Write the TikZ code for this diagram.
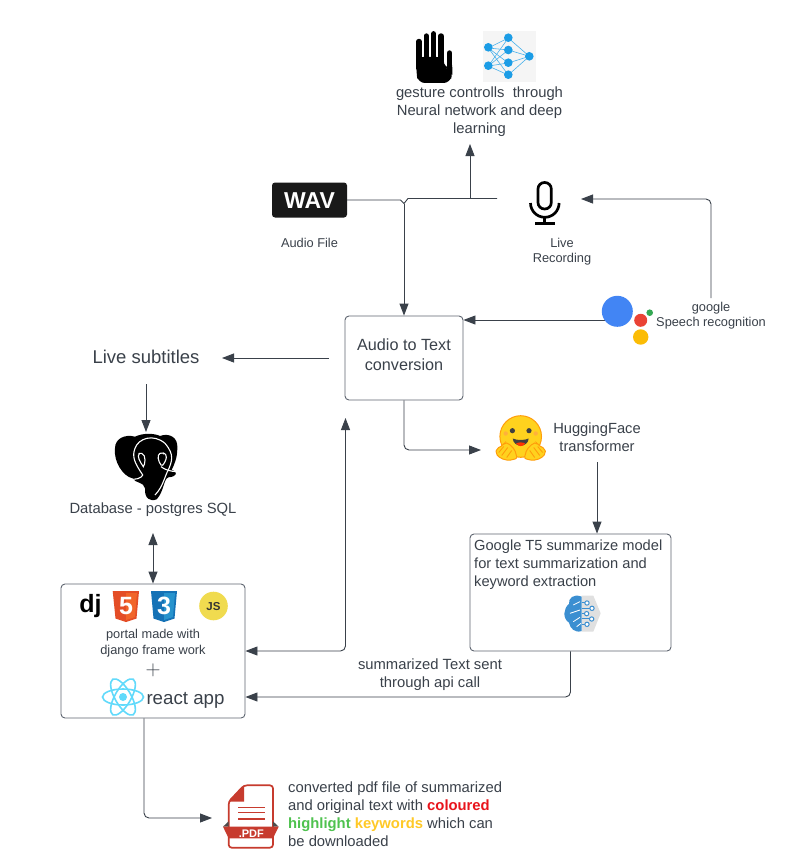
\documentclass[tikz,border=0pt]{standalone}
\usepackage{fontspec}
\setmainfont{Liberation Sans}
\usetikzlibrary{arrows.meta,calc}
\definecolor{ink}{HTML}{3A414A}
\definecolor{boxline}{HTML}{5E6570}
\definecolor{netblue}{HTML}{1C9DE6}
\definecolor{reactblue}{HTML}{61DAFB}
\definecolor{hfyellow}{HTML}{FFD21E}
\definecolor{hforange}{HTML}{FF9D0B}
\definecolor{pdfred}{HTML}{C73B2E}
\definecolor{brainblue}{HTML}{3B8FD1}
\definecolor{gblue}{HTML}{4285F4}
\definecolor{gred}{HTML}{EA4335}
\definecolor{ggreen}{HTML}{34A853}
\definecolor{gyellow}{HTML}{FBBC05}
\definecolor{htmla}{HTML}{E44D26}
\definecolor{htmlb}{HTML}{F16529}
\definecolor{cssa}{HTML}{1572B6}
\definecolor{cssb}{HTML}{33A9DC}
\definecolor{jsy}{HTML}{F0DB4F}
\tikzset{
  x=1pt,y=-1pt,
  lbl/.style 2 args={text=ink,inner sep=0pt,align=center,font=\fontsize{#1}{#2}\selectfont},
  card/.style={draw=boxline,line width=0.9pt,rounded corners=4pt,fill=white,inner sep=0pt},
  conn/.style={draw=ink,line width=0.9pt,rounded corners=5pt},
  tip/.style={-{Triangle[length=12pt,width=9pt]}},
  tips/.style={{Triangle[length=12pt,width=9pt]}-{Triangle[length=12pt,width=9pt]}},
  icon/.style={inner sep=0pt,minimum size=0pt},
}
\begin{document}
\begin{tikzpicture}
\useasboundingbox[fill=white] (0,0) rectangle (792,856);

% ---------- boxes
\node[card,minimum width=118pt,minimum height=84pt] (audio) at (404,358) {};
\node[lbl={16.2}{20.5}] (audiotext) at (404,354.5) {Audio to Text\\conversion};
\node[card,minimum width=201pt,minimum height=117pt] (t5) at (570.5,592.5) {};
\node[lbl={14.65}{18},align=left,anchor=north west] (t5text) at (474,540) {Google T5 summarize model\\for text summarization and\\keyword extraction};
\node[card,minimum width=184pt,minimum height=134pt] (portal) at (153,651) {};

% ---------- labels
\node[lbl={14.8}{18}] (gesture) at (479.5,111.5) {gesture controlls\ \ through\\Neural network and deep\\learning};
\node[lbl={12.8}{15}] (audiofile) at (309.5,243) {Audio File};
\node[lbl={12.8}{15.5}] (live) at (562,251.5) {Live\\Recording};
\node[lbl={12.8}{15}] (google) at (711,315.5) {google\\Speech recognition};
\node[lbl={18.5}{20}] (subtitles) at (146,356.5) {Live subtitles};
\node[lbl={14.7}{18}] (hf) at (597,437.7) {HuggingFace\\transformer};
\node[lbl={14.8}{18}] (db) at (153,510) {Database - postgres SQL};
\node[lbl={12.8}{16}] (portaltext) at (153,643) {portal made with\\django frame work};
\node[lbl={22}{22}] (plus) at (153,670) {$+$};
\node[lbl={18.7}{20}] (reactapp) at (185.5,700) {react app};
\node[lbl={14.8}{18}] (apitext) at (430,675) {summarized Text sent\\through api call};
\node[lbl={14.8}{18},align=left,anchor=north west] (pdftext) at (288,782) {converted pdf file of summarized\\and original text with {\bfseries\color[HTML]{E8141C}coloured}\\{\bfseries\color[HTML]{4FC24F}highlight} {\bfseries\color[HTML]{FFC926}keywords} which can\\be downloaded};

% ---------- icon anchors
\node[icon,minimum width=75pt,minimum height=35pt,fill=black!90,rounded corners=3pt] (wav) at (309.5,200) {};
\node[text=white,inner sep=0pt,font=\bfseries\fontsize{23}{23}\selectfont] (wavtext) at (309.5,200.5) {WAV};
\coordinate (micleft) at (497,198.5);
\coordinate (micright) at (581,199);
\coordinate (gup) at (470,144);
\coordinate (gstart) at (470,198.5);
\coordinate (googleleft) at (605,320);
\coordinate (googletop) at (711,298);
\coordinate (subl) at (222,358);
\coordinate (audl) at (329,358);
\coordinate (subb) at (146,384);
\coordinate (dbtop) at (146,432);
\coordinate (dbbot) at (153,533);
\coordinate (hfleft) at (481,450);
\coordinate (hfbot) at (597,462);
\coordinate (pdfleft) at (212,818);
\coordinate (merge) at (404,203.5);
\coordinate (portalup) at (345.5,418);

% ---------- connectors
\draw[conn,rounded corners=0pt] (wav.east) -- (400.5,200) -- (merge);
\draw[conn,rounded corners=0pt] (micleft) -- (408,198.5) -- (merge);
\draw[conn,tip] (merge) -- (audio.north -| merge);
\draw[conn,tip] (gstart) -- (gup);
\draw[conn,tip] (googletop) -- (711,199) -- (micright);
\draw[conn,tip] (googleleft) -- (audio.east |- googleleft);
\draw[conn,tip] (audl) -- (subl);
\draw[conn,tip] (subb) -- (dbtop);
\draw[conn,tips] (dbbot) -- (portal.north);
\draw[conn,tips] (portal.east |- 0,651) -- (345.5,651) -- (portalup);
\draw[conn,tip] (audio.south -| merge) -- (404,450) -- (hfleft);
\draw[conn,tip] (hfbot) -- (t5.north -| hfbot);
\draw[conn,tip] (t5.south -| 570.5,0) -- (570.5,697) -- (portal.east |- 0,697);
\draw[conn,tip] (portal.south -| 144,0) -- (144,818) -- (pdfleft);

% ---------- hand
\draw[black,line width=5.4pt,line cap=round] (419,41.5) -- (419,62) (426.3,36) -- (426.3,62) (433.7,33.8) -- (433.7,62) (441,36) -- (441,62) (449.6,53) -- (449.6,72);
\fill[black,rounded corners=7pt] (416.3,57) -- (443.7,57) -- (443.7,68) -- (452.3,68) -- (452.3,72) -- (450.5,83) -- (418,83) -- (416.3,72) -- cycle;
\fill[black] (416.3,57) rectangle (443.7,69);

% ---------- neural network
\fill[black!4] (483,31) rectangle (536,82);
\foreach \a in {48,66}{\foreach \b in {38,50,63,75}{\draw[netblue!80,line width=0.6pt] (488.3,\a) -- (508.3,\b);}}
\foreach \b in {38,50,63,75}{\draw[netblue!80,line width=0.6pt] (508.3,\b) -- (529.3,56.3);}
\foreach \p/\q in {488.3/47.3,488.3/65.7,508.3/37.7,508.3/50,508.3/62.7,508.3/74.7,529.3/56.3}{\fill[netblue] (\p,\q) circle[radius=4.3pt];}

% ---------- microphone
\draw[black,line width=2.7pt,rounded corners=6.5pt] (538,182.5) rectangle (551.3,209);
\draw[black,line width=2.7pt] (530.5,203) arc[start angle=180,end angle=360,radius=14.3pt];
\draw[black,line width=2.7pt] (544.8,217) -- (544.8,223);
\fill[black] (535,221.5) rectangle (555,224.5);

% ---------- google assistant
\fill[gblue] (617.3,311.3) circle[radius=15.5pt];
\fill[gred] (640.7,320.3) circle[radius=6.5pt];
\fill[ggreen] (649.7,312.7) circle[radius=3.3pt];
\fill[gyellow] (640.7,337) circle[radius=7.7pt];

% ---------- elephant (zoom coordinates)
\begin{scope}[shift={(100,420)},x=0.3333pt,y=-0.3333pt]
\fill[black] (45,85) .. controls (45,55) and (75,42) .. (105,50) .. controls (130,38) and (165,40) .. (180,48) .. controls (205,38) and (235,50) .. (232,85) .. controls (232,115) and (222,135) .. (215,150) .. controls (235,155) and (232,170) .. (205,172) .. controls (190,178) and (192,215) .. (170,238) .. controls (150,246) and (133,235) .. (135,205) .. controls (132,185) and (105,190) .. (98,175) .. controls (70,170) and (40,125) .. (45,85) -- cycle;
\draw[white,line width=1.1pt] (100,178) .. controls (120,178) and (135,165) .. (125,160) .. controls (105,130) and (95,110) .. (105,85) .. controls (115,55) and (160,40) .. (195,70) .. controls (225,105) and (215,125) .. (205,150) .. controls (195,165) and (190,200) .. (165,225);
\draw[white,line width=1.1pt] (125,100) .. controls (140,105) and (135,135) .. (130,140) .. controls (120,125) and (110,110) .. (118,100) -- (125,100);
\draw[white,line width=1.1pt] (180,100) .. controls (195,95) and (205,105) .. (195,125) .. controls (190,135) and (185,140) .. (183,135) .. controls (175,125) and (170,105) .. (180,100);
\draw[white,line width=1.1pt] (183,140) .. controls (195,150) and (215,155) .. (232,155);
\fill[white] (118,101) circle[radius=2.5];
\fill[white] (190,101) circle[radius=2.5];
\end{scope}

% ---------- dj, html, css, js
\node[inner sep=0pt,font=\bfseries\fontsize{25}{25}\selectfont,text=black] (dj) at (90.5,606) {dj};
\fill[htmla] (112.7,591) -- (139,591) -- (136.5,618.5) -- (126,622) -- (115.5,618.5) -- cycle;
\fill[htmlb] (126,593) -- (137,593) -- (135,617) -- (126,620) -- cycle;
\node[inner sep=0pt,text=white,font=\bfseries\fontsize{25}{25}\selectfont] (five) at (126,606) {5};
\fill[cssa] (151,591) -- (177,591) -- (174.5,618.5) -- (164,622) -- (153.5,618.5) -- cycle;
\fill[cssb!60!cssa] (164,593) -- (175,593) -- (173,617) -- (164,620) -- cycle;
\node[inner sep=0pt,text=white,font=\bfseries\fontsize{25}{25}\selectfont] (three) at (164,606) {3};
\fill[jsy] (213.5,606) circle[radius=14.3pt];
\node[inner sep=0pt,text=black!80,font=\bfseries\fontsize{11.5}{11.5}\selectfont] (js) at (213.5,606.5) {JS};

% ---------- react
\begin{scope}[shift={(123,697)}]
\foreach \r in {0,60,120}{\draw[reactblue,line width=1.6pt,rotate=\r] (0,0) circle[x radius=20.5pt,y radius=8pt];}
\fill[reactblue] (0,0) circle[radius=4pt];
\end{scope}

% ---------- hugging face
\begin{scope}[shift={(520.7,436.5)}]
\fill[hfyellow,draw=hforange,line width=1pt] (0,0) circle[radius=20.8pt];
\fill[black!75] (-8.3,-5.8) circle[radius=2.6pt];
\fill[black!75] (8.3,-5.8) circle[radius=2.6pt];
\fill[hforange!80] (-15,-3) circle[radius=2.2pt];
\fill[hforange!80] (15,-3) circle[radius=2.2pt];
\fill[black!75] (-8,2) .. controls (-4,4) and (4,4) .. (8,2) .. controls (7,11.5) and (-7,11.5) .. (-8,2) -- cycle;
\fill[red!60!orange] (-4.5,7) .. controls (-2,5.5) and (2,5.5) .. (4.5,7) .. controls (2,10.5) and (-2,10.5) .. (-4.5,7) -- cycle;
\foreach \s in {-1,1}{
  \begin{scope}[xscale=\s]
  \fill[hfyellow,draw=hforange,line width=1pt,rounded corners=2pt] (3.5,22) -- (6,13) -- (12,7) -- (16,6) -- (18,9) -- (24,12) -- (25,17) -- (20,22) -- (12,24) -- cycle;
  \draw[hforange,line width=0.9pt] (13,11) -- (19,19);
  \draw[hforange,line width=0.9pt] (17,10) -- (22,16);
  \draw[hforange,line width=0.9pt] (9,14) -- (14,21);
  \end{scope}
}
\end{scope}

% ---------- brain
\begin{scope}[shift={(465,530)},x=0.3333pt,y=-0.3333pt]
\fill[black!12] (350,197) -- (385,197) -- (407,250) -- (385,305) -- (350,305) -- cycle;
\fill[brainblue] (350,200) .. controls (325,190) and (310,205) .. (312,222) .. controls (295,235) and (292,265) .. (312,278) .. controls (315,295) and (330,310) .. (350,303) -- cycle;
\draw[white,line width=0.8pt] (325,225) -- (345,215) (315,250) -- (345,240) (325,275) -- (345,262) (335,290) -- (348,280);
\foreach \a/\b in {366/219,365/251,380/267,366/283}{
  \draw[brainblue,line width=1pt] (350,\b) -- (\a,\b);
  \draw[brainblue,line width=1pt,fill=white] (\a,\b) circle[radius=6.5];
}
\draw[brainblue,line width=1pt] (350,235) -- (380,235);
\draw[brainblue,line width=1pt,fill=white] (381,235) circle[radius=6.5];
\end{scope}

% ---------- pdf
\begin{scope}[shift={(218,780)},x=0.3333pt,y=-0.3333pt]
\draw[pdfred,line width=1.7pt,fill=white,rounded corners=3pt] (78,16) -- (165,16) -- (165,203) -- (32,203) -- (32,65) -- cycle;
\fill[pdfred] (78,16) -- (78,65) -- (32,65) -- cycle;
\foreach \y in {82,98,117}{\draw[pdfred,line width=1.5pt] (60,\y) -- (140,\y);}
\fill[black!70] (15,140) -- (32,124) -- (32,140) -- cycle;
\fill[black!70] (182,140) -- (165,124) -- (165,140) -- cycle;
\fill[pdfred] (15,140) -- (182,140) -- (165,175) -- (32,175) -- cycle;
\node[inner sep=0pt,text=white,font=\bfseries\fontsize{11}{11}\selectfont] (pdflabel) at (100,160) {.PDF};
\end{scope}
\end{tikzpicture}
\end{document}
